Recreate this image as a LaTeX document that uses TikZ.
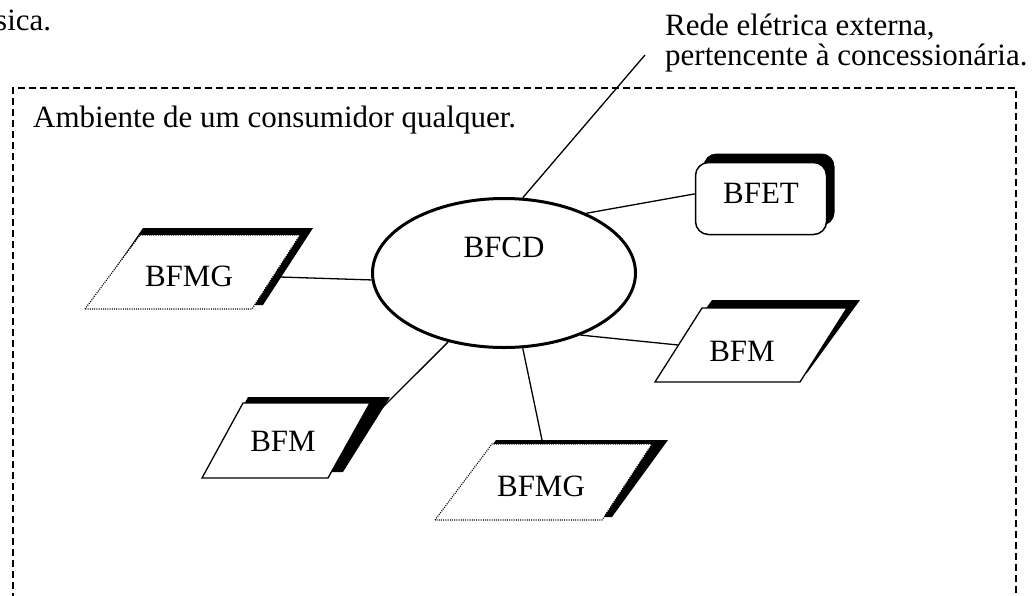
\documentclass[tikz,border=0pt]{standalone}
\usepackage{fontspec}
\setmainfont{Liberation Serif}
\usetikzlibrary{shapes.geometric,shadows}
\begin{document}
\begin{tikzpicture}[x=1pt,y=1pt,
  txt/.style={font=\fontsize{31}{30}\selectfont, inner sep=0pt},
  conn/.style={line width=1.3pt},
  shade/.style={fill=black},
  pg/.style={fill=white, draw, line width=1.2pt, dash pattern=on 1pt off 1.2pt},
  pm/.style={fill=white, draw, line width=1.3pt, line join=miter},
  border/.style={line width=1.3pt, dash pattern=on 7pt off 4pt}]
\useasboundingbox (0,0) rectangle (1035,-595);
\fill[white] (0,0) rectangle (1035,-595);
% outer dashed frame
\draw[border] (13,-600) -- (13,-88) -- (1016,-88) -- (1016,-600);
% texts
\node[txt, anchor=base west] (sica) at (-5,-30) {sica.};
\node[txt, anchor=base west] (rede1) at (665,-35) {Rede elétrica externa,};
\node[txt, anchor=base west] (rede2) at (665,-65) {pertencente à concessionária.};
\node[txt, anchor=base west] (amb) at (33,-127) {Ambiente de um consumidor qualquer.};
% central ellipse
\node[ellipse, draw, line width=3pt, fill=white, minimum width=263pt, minimum height=149pt, txt, text depth=52pt] (bfcd) at (504,-273) {BFCD};
% BFET
\node[draw, rounded corners=13pt, line width=1.5pt, fill=white, minimum width=131pt, minimum height=72pt, txt, text depth=11pt,
  drop shadow={shadow xshift=8pt, shadow yshift=9pt, fill=black, opacity=1}] (bfet) at (761,-198.5) {BFET};
% left BFMG
\fill[shade] (90,-305) -- (143,-228) -- (313,-228) -- (263,-305) -- cycle;
\path[pg] (85,-309) -- (140,-235) -- (300,-235) -- (252,-309) -- cycle;
\node[txt] (bfmgL) at (189,-276) {BFMG};
\coordinate (bfmgLc) at (280,-277);
% right BFM
\fill[shade] (660,-373) -- (712,-300) -- (860,-300) -- (807,-373) -- cycle;
\path[pm] (655,-382) -- (702,-308) -- (847,-308) -- (800,-382) -- cycle;
\node[txt] (bfmR) at (742,-351) {BFM};
\coordinate (bfmRc) at (678,-345);
% lower-left BFM
\fill[shade] (207,-472) -- (248,-397) -- (390,-397) -- (343,-472) -- cycle;
\path[pm] (202,-478) -- (243,-403) -- (370,-403) -- (328,-478) -- cycle;
\node[txt] (bfmL) at (283,-441) {BFM};
\coordinate (bfmLc) at (380,-410);
% bottom BFMG
\fill[shade] (440,-517) -- (496,-440) -- (668,-440) -- (612,-517) -- cycle;
\path[pg] (435,-520) -- (492,-444) -- (652,-444) -- (602,-520) -- cycle;
\node[txt] (bfmgB) at (541,-486) {BFMG};
\coordinate (bfmgBc) at (542,-440);
% external line end
\coordinate (redeEnd) at (645,-55);
% connectors
\draw[conn] (bfcd.76) -- (redeEnd);
\draw[conn] (bfcd.36) -- (bfet.176);
\draw[conn] (bfcd.183) -- (bfmgLc);
\draw[conn] (bfcd.-39) -- (bfmRc);
\draw[conn] (bfcd.231) -- (bfmLc);
\draw[conn] (bfcd.284) -- (bfmgBc);
\end{tikzpicture}
\end{document}
